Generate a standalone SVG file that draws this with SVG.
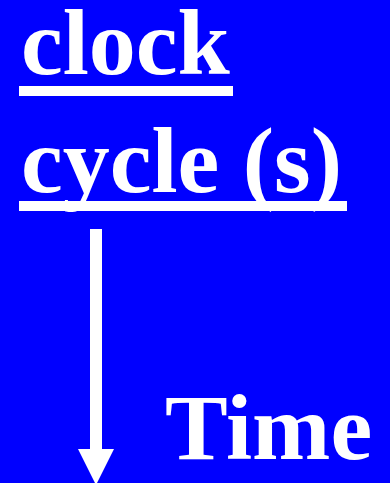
<svg xmlns="http://www.w3.org/2000/svg" width="390" height="483" viewBox="0 0 390 483">
<style>
.t{font-family:"Liberation Serif","Times New Roman",serif;font-weight:bold;font-size:94px;fill:#fff}
</style>
<rect width="390" height="483" fill="#0000ff"/>
<g id="clock">
<text class="t" x="21" y="74">clock</text>
<rect x="19" y="86" width="214" height="10" fill="#fff"/>
</g>
<g id="cycle">
<text class="t" x="21" y="192">cycle (s)</text>
<rect x="19" y="201" width="328" height="10" fill="#fff"/>
</g>
<g id="connectors">
<rect x="90" y="229" width="12" height="222" fill="#fff"/>
<polygon points="78,449 114,449 96,485" fill="#fff"/>
</g>
<g id="time">
<text class="t" x="165" y="459">Time</text>
</g>
</svg>
